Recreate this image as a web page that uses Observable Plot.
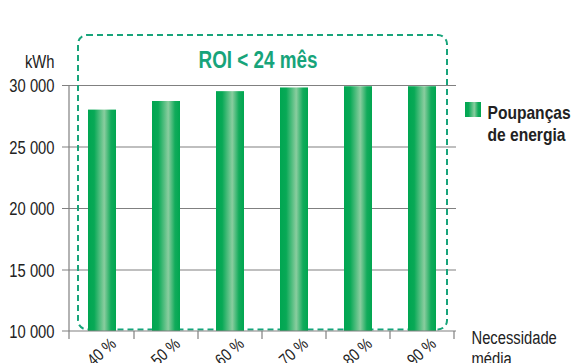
<!DOCTYPE html>
<html>
<head>
<meta charset="utf-8">
<script src="https://cdn.jsdelivr.net/npm/d3@7"></script>
<script src="https://cdn.jsdelivr.net/npm/@observablehq/plot@0.6"></script>
<style>
  html, body { margin: 0; padding: 0; background: #fff; }
  #chart svg text { font-family: "Liberation Sans", Arial, sans-serif; }
</style>
</head>
<body>
<div id="chart"></div>
<script>
// Energy savings (kWh) by average heating need
const needs = ["40 %", "50 %", "60 %", "70 %", "80 %", "90 %"];
const savings = [28000, 28700, 29500, 29800, 29900, 29900];
const yTicks = [10000, 15000, 20000, 25000, 30000];
const unitLabel = "kWh";
const xTitle = "Necessidade\nmédia";
const seriesName = "Poupanças\nde energia";
const roiLabel = "ROI < 24 mês";

const rows = needs.map((need, i) => ({need, kwh: savings[i]}));
const fmt = d => d3.format(",")(d).replace(/,/g, " ");

const ROI_COLOR = "#17a47a";
const GRID = "#808080";
const NARROW = 0.82; // horizontal squeeze giving a condensed face

// Gradient definition shared by the bars and the legend swatch
function defs() {
  const svg = d3.create("svg:g");
  const grad = svg.append("defs").append("linearGradient")
    .attr("id", "barGrad").attr("x1", "0").attr("x2", "1").attr("y1", "0").attr("y2", "0");
  [[0, "#00a651"], [0.22, "#08a956"], [0.58, "#8acd9f"], [0.82, "#12ab5b"], [1, "#00a650"]]
    .forEach(([o, c]) => grad.append("stop").attr("offset", o).attr("stop-color", c));
  return svg.node();
}

// Axis lines and band-boundary ticks
function axisLines(index, scales, values, dim) {
  const x = scales.x, y = scales.y;
  const g = d3.create("svg:g").attr("stroke", GRID).attr("stroke-width", 1.2).attr("fill", "none");
  const left = dim.marginLeft, right = dim.width - dim.marginRight;
  const base = y(yTicks[0]);
  const half = x.step() / 2, bw = x.bandwidth() / 2;
  g.append("line").attr("x1", left).attr("x2", left).attr("y1", y(yTicks[yTicks.length - 1])).attr("y2", base + 8);
  g.append("line").attr("x1", left - 7).attr("x2", right).attr("y1", base).attr("y2", base);
  needs.map(d => x(d) + bw + half)
    .forEach(b => g.append("line").attr("x1", b).attr("x2", b).attr("y1", base).attr("y2", base + 8));
  return g.node();
}

// Dashed rounded outline around the bars with the ROI note
function roiBox(index, scales, values, dim) {
  const x = scales.x, y = scales.y;
  const x0 = x(needs[0]) - 10;
  const x1 = x(needs[needs.length - 1]) + x.bandwidth() + 11;
  const y0 = dim.marginTop - 50;
  const y1 = y(yTicks[0]) - 1.6;
  return d3.create("svg:g").call(g => g.append("rect")
    .attr("x", x0).attr("y", y0).attr("width", x1 - x0).attr("height", y1 - y0)
    .attr("rx", 9).attr("ry", 9)
    .attr("fill", "none").attr("stroke", ROI_COLOR).attr("stroke-width", 2)
    .attr("stroke-dasharray", "6 4")).node();
}

// Legend swatch to the right of the frame
function legendSwatch(index, scales, values, dim) {
  const xr = dim.width - dim.marginRight;
  return d3.create("svg:g").call(g => g.append("rect")
    .attr("x", xr + 9).attr("y", dim.marginTop + 17).attr("width", 16).attr("height", 15)
    .attr("fill", "url(#barGrad)")).node();
}

const chart = Plot.plot({
  width: 577,
  height: 363,
  marginLeft: 69,
  marginRight: 121,
  marginTop: 85,
  marginBottom: 32,
  x: {domain: needs, paddingInner: 0.56, paddingOuter: 0.28, axis: null},
  y: {domain: [yTicks[0], yTicks[yTicks.length - 1]], axis: null},
  marks: [
    defs,
    Plot.ruleY(yTicks.slice(1), {stroke: GRID, strokeWidth: 1.2, insetLeft: -7}),
    roiBox,
    Plot.barY(rows, {x: "need", y1: yTicks[0], y2: "kwh", fill: "url(#barGrad)"}),
    axisLines,
    Plot.text(yTicks, {y: d => d, text: fmt, frameAnchor: "left", textAnchor: "end", dx: -15, dy: 1, fontSize: 18, fill: "#222"}),
    Plot.text([unitLabel], {frameAnchor: "top-left", textAnchor: "end", lineAnchor: "bottom", dx: -15, dy: -18, fontSize: 18, fill: "#222"}),
    Plot.text(needs, {x: d => d, text: d => d, frameAnchor: "bottom", rotate: -42, textAnchor: "end", lineAnchor: "middle", dx: 11, dy: 10, fontSize: 17, fill: "#222"}),
    Plot.text([xTitle], {frameAnchor: "bottom-right", textAnchor: "start", lineAnchor: "top", dx: 15, dy: -3, fontSize: 18, lineHeight: 1.2, fill: "#222"}),
    Plot.text([roiLabel], {frameAnchor: "top", lineAnchor: "middle", dx: -5, dy: -25, fontSize: 23, fontWeight: "bold", fill: ROI_COLOR}),
    legendSwatch,
    Plot.text([seriesName], {frameAnchor: "top-right", textAnchor: "start", lineAnchor: "top", dx: 31, dy: 18, fontSize: 19, fontWeight: "bold", lineHeight: 1.14, fill: "#222"})
  ]
});

document.getElementById("chart").appendChild(chart);

// Condense every label horizontally (the face is a narrow grotesque)
chart.querySelectorAll("text").forEach(t => {
  const parts = t.querySelectorAll("tspan");
  (parts.length ? Array.from(parts) : [t]).forEach(el => {
    const len = el.getComputedTextLength();
    if (len > 0) {
      el.setAttribute("textLength", (len * NARROW).toFixed(2));
      el.setAttribute("lengthAdjust", "spacingAndGlyphs");
    }
  });
});
</script>
</body>
</html>
